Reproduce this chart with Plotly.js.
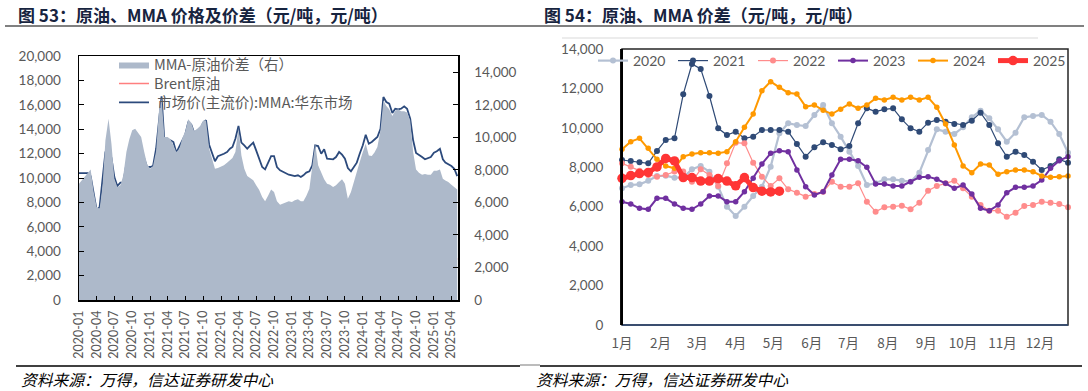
<!DOCTYPE html>
<html><head><meta charset="utf-8">
<script src="https://cdn.plot.ly/plotly-3.0.1.min.js"></script>
<style>html,body{margin:0;padding:0;background:#fff}#c{width:1088px;height:391px}</style>
</head><body><div id="c"></div>
<script>
// ---------- Left chart (图53) : semi-monthly series, 2020-01-01 .. 2025-05-01 ----------
const mma = [10400,10400,10400,10400,10150,8900,7350,7620,9800,12130,
12480,11640,10080,9340,9620,9620,11170,12180,12950,12400,
12900,12400,11640,10900,10900,10980,12400,15000,16700,12900,
13170,13090,12950,12080,12540,13090,13550,14530,14370,13710,
13880,13960,14530,14730,12730,12050,11370,11780,11860,11990,
12130,12400,12540,13220,14260,12900,12680,12400,12680,12900,
12270,11640,10900,10710,11310,11800,11800,10900,10630,10490,
10410,10270,10220,10160,10220,10080,10220,10440,10550,11040,
12680,12620,11990,12350,11580,11530,11530,11720,12130,11910,
11580,10820,10550,10900,11260,11990,12680,13550,12810,12950,
13140,13360,14040,16640,16230,16090,15330,15680,15630,15680,
15870,15680,14860,13090,12050,11910,11720,11530,11640,11720,
12080,12190,12400,11530,11260,11120,10980,10760,10160];
const spread = [7150,7360,7620,7830,8030,6680,5720,5610,6950,9820,
11150,9610,7460,6950,7050,7660,9100,9880,10430,10530,
10270,10020,9140,8380,8070,8240,9140,11660,12380,10020,
10020,9880,9510,9100,9300,9960,10370,11110,10900,10370,
10530,10700,11040,11040,9300,8590,8070,8110,8180,8280,
8440,8610,8730,9100,10570,8890,8070,7620,7500,7360,
7050,6780,6330,6070,6430,6800,6640,6070,5860,5920,
6020,6070,6020,6130,6190,6070,6070,6390,6840,8180,
9610,8280,7870,7420,7150,7090,6950,7050,7250,7420,
7150,6230,6640,7210,7770,8480,9100,9610,8890,8850,
9060,9410,10430,12270,11930,11720,11310,11640,11720,11600,
11600,11520,11040,9100,8030,7830,7700,7750,7700,7700,
7950,7950,8030,7460,7340,7250,7090,6950,6800];
const brent = [3440,3250,2980,2700,2300,1300,1200,1050,1700,2130,
2240,2300,2300,2270,2210,2130,2080,2020,2020,1970,
2080,2270,2380,2510,2600,2650,2790,3060,3250,3110,
3250,3330,3390,3420,3440,3610,3720,3520,3440,3500,
3660,3830,3930,3990,3880,3610,3440,3800,3990,4210,
4430,4920,5710,5300,5080,5360,5630,5900,5930,5660,
5440,5030,4890,4750,4700,4970,4970,4810,4620,4480,
4070,4150,4210,4180,4100,4100,4210,4100,4180,4070,
3830,3910,3960,4040,4150,4320,4480,4620,4750,4970,
4700,4480,4240,4020,3930,4040,4180,4210,4210,4320,
4430,4510,4640,4510,4370,4370,4450,4480,4480,4260,
4070,3990,4040,3910,3910,3880,3800,3800,3880,3930,
4150,3990,3830,3740,3740,3770,3610,3390,3330];
const leftNames = ['MMA-原油价差（右）','Brent原油',' 市场价(主流价):MMA:华东市场'];

// dates (1st and 16th of each month)
const dates = [];
for (let k = 0; k < mma.length; k++) {
  const m = Math.floor(k / 2), y = 2020 + Math.floor(m / 12), mo = m % 12 + 1;
  dates.push(y + '-' + String(mo).padStart(2, '0') + '-' + (k % 2 ? '16' : '01'));
}
const qTicks = [];
for (let y = 2020; y <= 2025; y++) for (const mo of ['01','04','07','10']) {
  if (y === 2025 && (mo === '07' || mo === '10')) continue;
  qTicks.push(y + '-' + mo + '-01');
}

// ---------- Right chart (图54) : weekly spread by year ----------
const s2020 = [6933,7102,7136,7322,7558,7576,7474,7474,7897,8066,7778,7018,6003,5530,6003,6544,7018,8032,9723,10231,10146,10095,10653,11160,10231,9552,8793,8066,7102,7187,7390,7390,7322,7271,7728,8877,9926,9808,9690,10028,10535,10873,10483,9926,9300,9757,10535,10602,10653,10315,9690,8742];
const s2021 = [8370,8320,8252,8201,8827,9385,9470,11702,13240,12990,11616,9977,9638,9808,9470,9555,9892,9892,9892,9808,9182,8540,9013,9267,9131,8912,9080,10231,10991,10822,10941,10991,10434,9977,9808,10262,10400,10315,10197,10146,10366,10771,10146,9216,8540,8793,8624,8286,7863,8066,8404,8235];
const s2022 = [8202,8032,7830,7610,7525,7610,7780,7780,7271,7897,7610,7051,8202,9250,9216,8235,7525,7051,7440,6883,6713,6510,6645,6763,7271,7018,7018,7187,6257,5749,5970,6003,6054,5868,6206,6814,7051,7187,7322,6933,6500,6087,5800,5800,5494,5698,6036,6087,6257,6206,6138,5970];
const s2023 = [6257,6138,5919,5868,6425,6425,6138,5919,5868,6138,6544,6544,6257,6257,6763,7440,8167,8709,8844,8793,7863,7018,6594,6764,7609,8404,8404,8336,7998,7153,7153,7051,7051,7271,7491,7525,7390,7187,6933,7102,6645,5919,5800,6087,6713,6984,6984,7051,7355,7947,8336,8540];
const s2024 = [8912,9300,9469,8962,8404,8066,7947,8540,8674,8742,8742,8709,8793,9300,10028,10703,11888,12345,12058,11785,11718,11075,11160,10890,10703,10940,11211,10991,11160,11498,11414,11549,11414,11549,11414,11549,11042,10197,9131,8066,7728,8167,8117,7643,7778,7863,7863,7778,7558,7490,7525,7558];
const s2025 = [7440,7580,7680,7740,8020,8450,8320,7480,7480,7300,7300,7430,7300,7060,7480,6970,6790,6750,6790];
const years = ['2020','2021','2022','2023','2024','2025'];
const monthLabels = ['1月','2月','3月','4月','5月','6月','7月','8月','9月','10月','11月','12月'];
const monthPos = [0,4.4,8.6,13,17.3,21.7,25.9,30.4,34.8,39,43.5,47.8];

const yearSeries = [s2020,s2021,s2022,s2023,s2024,s2025];
const yearStyle = [
  {c:'#b4c0d3', w:2.2, m:6},
  {c:'#2f4a76', w:1.2, m:6},
  {c:'#ff8c8c', w:1.2, m:6},
  {c:'#7030a0', w:2, m:5.5},
  {c:'#ff9900', w:2, m:5.5},
  {c:'#ff3535', w:5, m:9.5}
];

const grey = '#595959';
const numFont = 'Lato, "Noto Sans CJK SC", sans-serif';
const cjk = '"Noto Sans CJK SC", Lato, sans-serif';

const traces = [
  {x:dates, y:spread, name:leftNames[0], type:'scatter', mode:'lines', fill:'tozeroy',
   fillcolor:'#adb9ca', line:{width:0, color:'#adb9ca'}, xaxis:'x', yaxis:'y2', legend:'legend', showlegend:true, hoverinfo:'skip'},
  {x:dates, y:brent, name:leftNames[1], type:'scatter', mode:'lines',
   line:{width:1.6, color:'#ff7f7f'}, xaxis:'x', yaxis:'y', legend:'legend3', showlegend:true},
  {x:dates, y:mma, name:leftNames[2], type:'scatter', mode:'lines',
   line:{width:1.8, color:'#2c4a7c'}, xaxis:'x', yaxis:'y', legend:'legend4', showlegend:true}
];
yearSeries.forEach((s, j) => {
  traces.push({x:s.map((_, i) => i), y:s, name:years[j], type:'scatter', mode:'lines+markers',
    line:{width:yearStyle[j].w, color:yearStyle[j].c},
    marker:{size:yearStyle[j].m, color:yearStyle[j].c},
    cliponaxis:false, xaxis:'x2', yaxis:'y3', legend:'legend2', showlegend:true});
});

const W = 1088, H = 391;
const px = v => v / W, py = v => 1 - v / H;
const leftLegend = yc => ({x:px(114), xanchor:'left', y:py(yc), yanchor:'middle', bgcolor:'rgba(0,0,0,0)',
    font:{size:14.5, color:grey, family:cjk}, itemwidth:30, visible:true});

const layout = {
  width:W, height:H, margin:{l:0, r:0, t:0, b:0, autoexpand:false},
  paper_bgcolor:'#ffffff', plot_bgcolor:'rgba(0,0,0,0)', showlegend:true,
  font:{family:numFont, color:grey},
  xaxis:{domain:[px(79), px(458)], anchor:'y', type:'date', range:['2020-01-01','2025-05-05'],
    tickvals:qTicks, tickformat:'%Y-%m', tickangle:-90, ticks:'inside', ticklen:4, tickcolor:'#000',
    showline:true, linecolor:'#000', linewidth:1.5, mirror:true, showgrid:false, zeroline:false,
    tickfont:{size:12.5, color:grey, family:numFont}, ticklabelstandoff:4, automargin:false},
  yaxis:{domain:[1 - 300/H, 1 - 56/H], anchor:'x', range:[0,20000], dtick:2000, tickformat:',d',
    ticks:'inside', ticklen:5, tickcolor:'#000', showline:true, linecolor:'#000', linewidth:1.5,
    showgrid:false, zeroline:false, tickfont:{size:13.5, color:grey, family:numFont}, ticklabelstandoff:14, automargin:false},
  yaxis2:{overlaying:'y', side:'right', anchor:'x', range:[0,15000], dtick:2000, tickformat:',d',
    ticks:'inside', ticklen:5, tickcolor:'#000', showline:true, linecolor:'#000', linewidth:1.5,
    showgrid:false, zeroline:false, tickfont:{size:13.5, color:grey, family:numFont}, ticklabelstandoff:12, automargin:false},
  xaxis2:{domain:[px(622), px(1068)], anchor:'y3', range:[0,51], tickvals:monthPos, ticktext:monthLabels,
    ticks:'', showline:false, showgrid:false, zeroline:false,
    tickfont:{size:13.5, color:grey, family:cjk}, ticklabelstandoff:8, automargin:false},
  yaxis3:{domain:[1 - 325/H, 1 - 49/H], anchor:'x2', range:[0,14000], dtick:2000, tickformat:',d',
    ticks:'', showline:true, linecolor:'#111', linewidth:2, showgrid:false, zeroline:false,
    tickfont:{size:13.5, color:grey, family:numFont}, ticklabelstandoff:14, automargin:false},
  legend:leftLegend(64.5),
  legend3:leftLegend(83.5),
  legend4:leftLegend(102.5),
  legend2:{orientation:'h', x:px(593), xanchor:'left', y:py(45), yanchor:'top', bgcolor:'rgba(0,0,0,0)',
    font:{size:14, color:grey, family:numFont}, itemwidth:30, entrywidth:35, entrywidthmode:'pixels', traceorder:'normal'},
  shapes:[
    {type:'line', xref:'paper', yref:'paper', x0:px(5), x1:px(1084), y0:py(26), y1:py(26), line:{color:'#808080', width:2}},
    {type:'line', xref:'paper', yref:'paper', x0:px(562), x1:px(1038), y0:py(38), y1:py(38), line:{color:'#d9d9d9', width:1}},
    {type:'rect', xref:'paper', yref:'paper', x0:px(622), x1:px(1068), y0:py(325), y1:py(49), line:{color:'#262626', width:1.5}},
    {type:'line', xref:'paper', yref:'paper', x0:px(622), x1:px(1068), y0:py(325), y1:py(325), line:{color:'#2f4a76', width:1.5}},
    {type:'line', xref:'paper', yref:'paper', x0:px(622), x1:px(622), y0:py(325), y1:py(49), line:{color:'#000', width:2}},
    {type:'line', xref:'paper', yref:'paper', x0:px(16), x1:px(520), y0:py(366), y1:py(366), line:{color:'#000', width:1.5}},
    {type:'line', xref:'paper', yref:'paper', x0:px(520), x1:px(540), y0:py(365), y1:py(365), line:{color:'#a6a6a6', width:1.5}},
    {type:'line', xref:'paper', yref:'paper', x0:px(540), x1:px(1082), y0:py(366), y1:py(366), line:{color:'#000', width:1.5}}
  ],
  annotations:[
    {xref:'paper', yref:'paper', x:px(16), y:py(15), xanchor:'left', yanchor:'middle', showarrow:false,
     text:'<b>图 53：原油、MMA 价格及价差（元/吨，元/吨）</b>', font:{size:17, color:'#17243f', family:cjk}},
    {xref:'paper', yref:'paper', x:px(542), y:py(15), xanchor:'left', yanchor:'middle', showarrow:false,
     text:'<b>图 54：原油、MMA 价差（元/吨，元/吨）</b>', font:{size:17, color:'#17243f', family:cjk}},
    {xref:'paper', yref:'paper', x:px(19), y:py(379), xanchor:'left', yanchor:'middle', showarrow:false,
     text:'<i>资料来源：万得，信达证券研发中心</i>', font:{size:15.75, color:'#000', family:cjk}},
    {xref:'paper', yref:'paper', x:px(534), y:py(379), xanchor:'left', yanchor:'middle', showarrow:false,
     text:'<i>资料来源：万得，信达证券研发中心</i>', font:{size:15.75, color:'#000', family:cjk}}
  ]
};

Plotly.newPlot('c', traces, layout, {displayModeBar:false, staticPlot:true});
</script>
</body></html>
